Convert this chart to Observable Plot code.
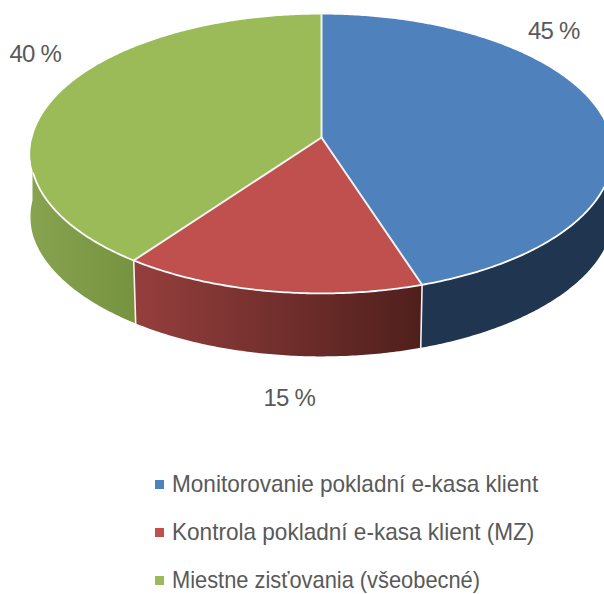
<!DOCTYPE html>
<html><head><meta charset="utf-8">
<script src="https://cdn.jsdelivr.net/npm/d3@7"></script>
<script src="https://cdn.jsdelivr.net/npm/@observablehq/plot@0.6"></script>
<style>
html,body{margin:0;padding:0;background:#fff;overflow:hidden}
svg{display:block}
.lg{padding:20px 0 0 155px;font-family:"Liberation Sans",sans-serif;font-size:24px;color:#595959}
.row{display:flex;align-items:center;height:48px;white-space:nowrap}
.sw{width:9px;height:9px;margin-right:8px;flex:none}
.tx{display:inline-block;transform-origin:left center}
</style></head><body>
<div id="chart"></div>
<script>
const categories = ["Monitorovanie pokladní e-kasa klient", "Kontrola pokladní e-kasa klient (MZ)", "Miestne zisťovania (všeobecné)"];
const values = [45, 15, 40];
const topColors = ["#4f81bd", "#c0504d", "#9bbb59"];
const wallFills = ["url(#wb)", "url(#wr)", "url(#wg)"];
const labelDx = [-48, 19, -21];
const labelDy = [-85, 107, -42];
const legendSqueeze = [0.94, 0.94, 0.91];

// perspective view of the pie disc
const W = 604, H = 440, cx = 321, cy = 137, R = 289, V = 137.5, k = 0.118, depth = 63;
const proj = (a, r = 1) => {
  const s = r * Math.sin(a), c = r * Math.cos(a), d = 1 + k * c;
  return {x: cx + R * s / d, y: cy - V * c / d};
};
const lower = p => ({x: cx + (p.x - cx) * (1 - 0.012 * Math.max(0, p.y - 172) / 100), y: p.y + depth});
const arcs = d3.pie().sort(null)(values);
const arcPts = (a0, a1) => {
  const n = Math.max(2, Math.ceil((a1 - a0) / 0.01));
  return d3.range(n + 1).map(i => proj(a0 + (a1 - a0) * i / n));
};
const tops = arcs.map(a => [proj(0, 0), ...arcPts(a.startAngle, a.endAngle), proj(0, 0)]);
const walls = arcs.map(a => {
  const b0 = Math.max(a.startAngle, Math.PI / 2), b1 = Math.min(a.endAngle, 3 * Math.PI / 2);
  const rim = arcPts(b0, b1);
  return [...rim, ...rim.slice().reverse().map(lower), rim[0]];
});
const seams = arcs.slice(0, -1).map(a => {
  const p = proj(a.endAngle);
  return [p, lower(p)];
});
const labels = arcs.map((a, i) => ({...proj((a.startAngle + a.endAngle) / 2), t: a.data + " %", i}));

const line = (d, o) => Plot.line(d, {x: "x", y: "y", curve: "linear", ...o});
const plot = Plot.plot({
  width: W, height: H, margin: 0,
  style: {letterSpacing: "-0.8px"},
  x: {domain: [0, W], range: [0, W], axis: null},
  y: {domain: [0, H], range: [0, H], axis: null},
  marks: [
    ...walls.map((d, i) => line(d, {fill: wallFills[i], stroke: "none"})),
    ...seams.map(d => line(d, {stroke: "#f2f2f2", strokeWidth: 1.6})),
    ...tops.map((d, i) => line(d, {fill: topColors[i], stroke: "none"})),
    ...arcs.map(a => line(arcPts(a.startAngle, a.endAngle).filter(p => p.y > 172), {stroke: "#fff", strokeWidth: 1.8})),
    ...arcs.map(a => line([proj(a.startAngle), proj(0, 0)], {stroke: "#f2f2f2", strokeWidth: 2})),
    ...labels.map(l => Plot.text([l], {x: "x", y: "y", text: "t", dx: labelDx[l.i], dy: labelDy[l.i],
      fontSize: 24, fill: "#595959", fontFamily: "Liberation Sans, sans-serif"}))
  ]
});
const defs = d3.select(plot).append("defs");
const grad = (id, x1, x2, c1, c2) => {
  const g = defs.append("linearGradient").attr("id", id).attr("gradientUnits", "userSpaceOnUse")
    .attr("x1", x1).attr("x2", x2).attr("y1", 0).attr("y2", 0);
  g.append("stop").attr("offset", 0).attr("stop-color", c1);
  g.append("stop").attr("offset", 1).attr("stop-color", c2);
};
grad("wb", 421, 604, "#1f3550", "#1f3550");
grad("wr", 134, 421, "#953f3d", "#4f1f1c");
grad("wg", 30, 134, "#87a34f", "#76933f");
document.getElementById("chart").append(plot);
const lg = d3.select("body").append("div").attr("class", "lg");
categories.forEach((c, i) => {
  const r = lg.append("div").attr("class", "row");
  r.append("span").attr("class", "sw").style("background", topColors[i]);
  r.append("span").attr("class", "tx").style("transform", `scaleX(${legendSqueeze[i]})`).text(c);
});
</script>
</body></html>
